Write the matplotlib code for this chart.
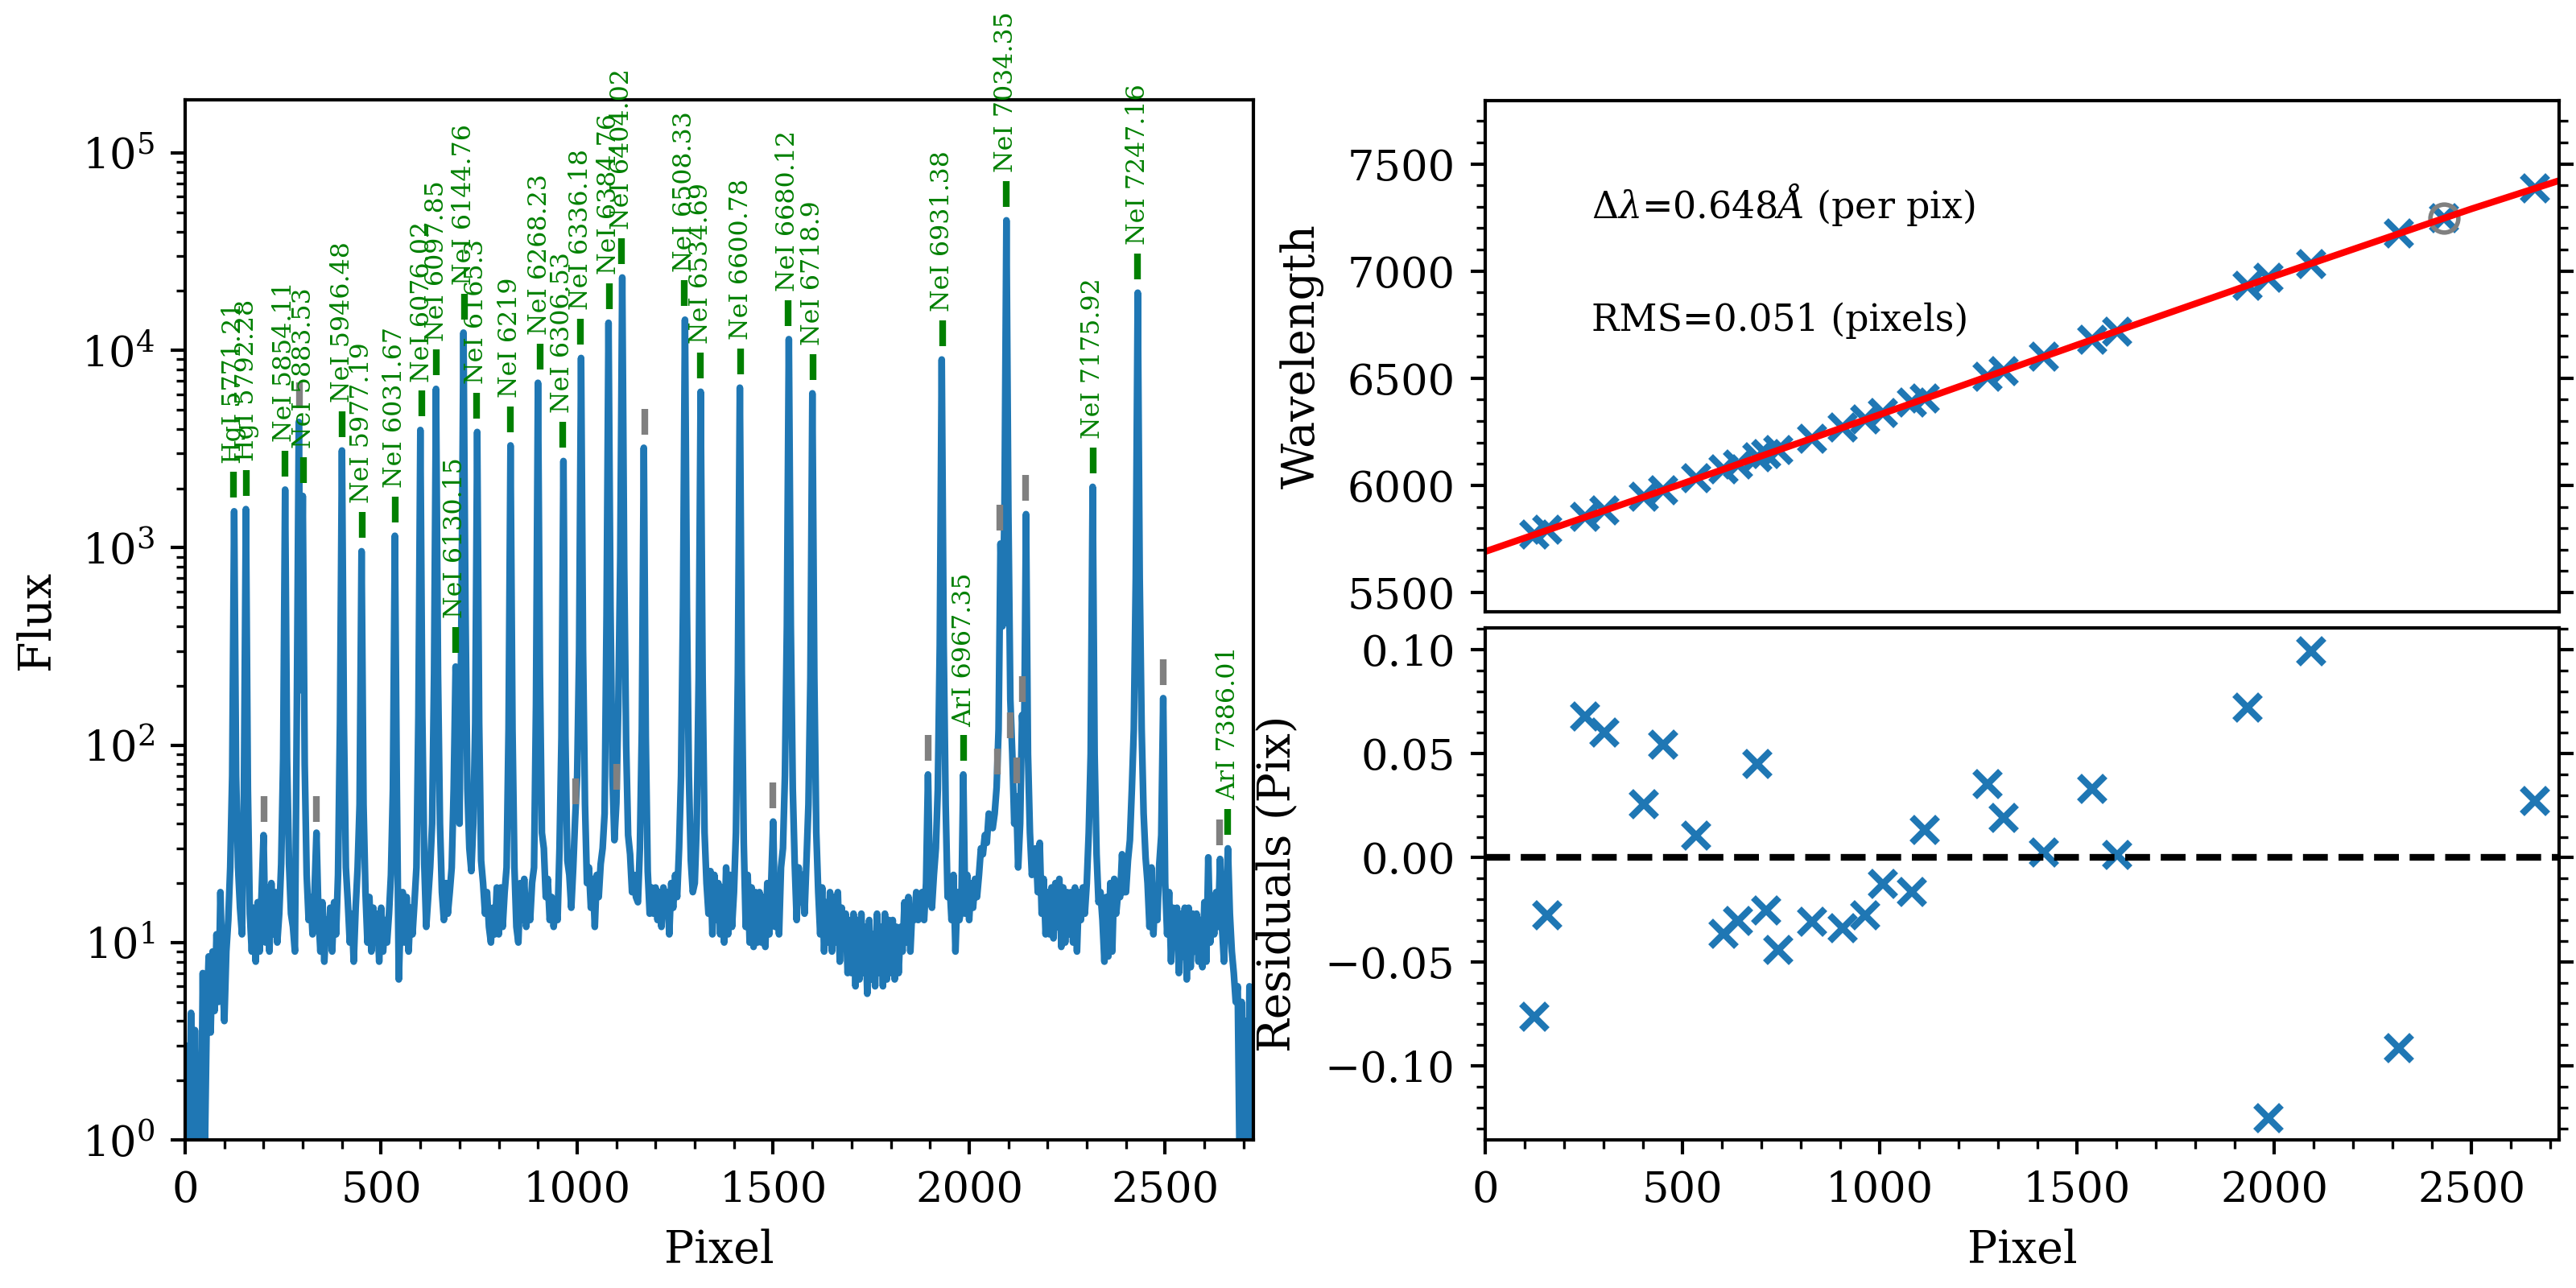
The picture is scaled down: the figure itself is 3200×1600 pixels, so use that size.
import numpy as np
import matplotlib
matplotlib.use("Agg")
import matplotlib.pyplot as plt
from matplotlib.ticker import MultipleLocator, LogLocator, NullFormatter

plt.rcParams['font.family'] = 'DejaVu Serif'
plt.rcParams['mathtext.fontset'] = 'dejavuserif'

# arc spectrum, one value every 5 pixels, each row spans 100 pixels
spec_step = 5
spec_flux = [
    .6, 3, .7, 4.4, .8, 3.6, .8, 2.5, .7, 7, .8, 4, 8.5, 3.5, 9, 4.5, 11, 5, 18, 7,
    4, 9, 13, 24, 70, 1530, 70, 24, 15, 11, 60, 1570, 60, 14, 9, 15, 8, 16, 9, 18,
    35, 10, 19, 9, 20, 11, 18, 10, 14, 25, 85, 1970, 85, 25, 14, 12, 9, 160, 4340, 190,
    1830, 80, 22, 13, 17, 11, 18, 36, 14, 9, 16, 8, 13, 10, 15, 9, 16, 11, 22, 130,
    3110, 130, 24, 16, 10, 14, 8, 15, 24, 50, 960, 50, 18, 10, 17, 9, 15, 10, 14, 8,
    15, 9, 13, 10, 14, 22, 60, 1150, 60, 6.5, 14, 18, 10, 17, 9, 15, 11, 16, 24, 140,
    3950, 140, 25, 12, 17, 24, 40, 230, 6380, 230, 40, 18, 13, 20, 14, 18, 24, 60, 250, 80,
    40, 500, 12300, 500, 60, 30, 23, 40, 130, 3860, 130, 26, 20, 14, 18, 12, 10, 15, 11, 19,
    11, 19, 12, 18, 24, 120, 3300, 120, 24, 12, 10, 20, 13, 21, 12, 16, 13, 20, 24, 160,
    6850, 230, 36, 30, 17, 21, 13, 17, 12, 15, 13, 30, 110, 2750, 110, 26, 22, 15, 24, 43,
    70, 300, 9150, 300, 50, 20, 24, 15, 21, 12, 22, 17, 25, 30, 45, 450, 13800, 500, 70, 33,
    51, 160, 900, 23400, 800, 100, 35, 28, 18, 22, 17, 16, 30, 120, 3210, 110, 23, 14, 19, 14,
    19, 13, 18, 12, 19, 14, 18, 11, 20, 15, 22, 17, 30, 70, 500, 14300, 500, 70, 26, 18,
    20, 40, 220, 6170, 220, 36, 20, 14, 23, 11, 22, 13, 20, 11, 19, 10, 24, 11, 22, 12,
    18, 36, 230, 6470, 230, 32, 12, 22, 10, 19, 9.5, 18, 10, 18, 10, 17, 9.5, 20, 11, 20,
    41, 12, 20, 11, 24, 30, 70, 400, 11400, 400, 60, 25, 13, 24, 16, 22, 14, 26, 50, 220,
    6060, 220, 36, 18, 11, 19, 9, 16, 10, 18, 9, 17, 10, 18, 8, 15, 10, 14, 7, 13,
    7, 14, 6, 13, 6.5, 14, 7, 12, 5.5, 13, 6.5, 11, 6, 14, 7, 12, 6, 14, 6.5, 13,
    7, 13, 6.5, 12, 7, 12, 9, 16, 10, 17, 9, 15, 13, 18, 13, 15, 18, 13, 20, 71,
    20, 15, 22, 30, 60, 320, 8990, 320, 50, 17, 20, 13, 22, 9, 18, 13, 15, 71, 14, 22,
    13, 20, 15, 21, 17, 22, 30, 28, 35, 32, 45, 40, 38, 45, 61, 120, 1050, 400, 1500, 45600,
    1500, 170, 90, 40, 55, 24, 40, 142, 90, 1480, 90, 36, 22, 27, 30, 18, 32, 14, 21, 11,
    18, 11, 19, 10.5, 20, 12, 21, 9.5, 19, 10, 18, 11, 18, 10, 19, 9, 18, 13, 19, 14,
    20, 36, 90, 2035, 90, 28, 16, 18, 13, 8, 17, 8.5, 20, 9, 21, 14, 18, 17, 28, 18,
    18, 26, 33, 60, 120, 700, 19600, 700, 120, 45, 27, 20, 12, 24, 11, 19, 13, 25, 35, 173,
    20, 11, 18, 8, 15, 10, 15, 7, 14, 8.5, 15, 6.5, 15, 7.5, 14, 9, 14, 8, 13, 7.5,
    16, 8, 27, 10, 16, 11, 18, 12, 26.5, 12, 8, 15, 30, 14, 9, 7, 5, 6, .7, 5,
    .7, 4, .7, 6, .6,
]

# identified lines
line_names = [
    'HgI 5771.21', 'HgI 5792.28', 'NeI 5854.11', 'NeI 5883.53', 'NeI 5946.48',
    'NeI 5977.19', 'NeI 6031.67', 'NeI 6076.02', 'NeI 6097.85', 'NeI 6130.15',
    'NeI 6144.76', 'NeI 6165.3', 'NeI 6219', 'NeI 6268.23', 'NeI 6306.53',
    'NeI 6336.18', 'NeI 6384.76', 'NeI 6404.02', 'NeI 6508.33', 'NeI 6534.69',
    'NeI 6600.78', 'NeI 6680.12', 'NeI 6718.9', 'NeI 6931.38', 'ArI 6967.35',
    'NeI 7034.35', 'NeI 7175.92', 'NeI 7247.16', 'ArI 7386.01',
]
line_wave = [
    5771.21, 5792.28, 5854.11, 5883.53, 5946.48, 5977.19, 6031.67, 6076.02,
    6097.85, 6130.15, 6144.76, 6165.3, 6219, 6268.23, 6306.53, 6336.18, 6384.76,
    6404.02, 6508.33, 6534.69, 6600.78, 6680.12, 6718.9, 6931.38, 6967.35,
    7034.35, 7175.92, 7247.16, 7386.01,
]
line_pix = [
    124, 157, 254, 302, 401, 451, 535, 604, 641, 689, 712, 743, 829, 905, 963,
    1009, 1082, 1114, 1274, 1315, 1417, 1538, 1601, 1932, 1986, 2094, 2316, 2430,
    2660,
]
line_flux = [
    1530, 1570, 1970, 1820, 3110, 960, 1150, 3950, 6380, 250, 12300, 3860, 3300,
    6850, 2750, 9150, 13800, 23400, 14300, 6170, 6470, 11400, 6060, 8990, 71,
    45600, 2035, 19600, 30,
]

# peaks found but not identified
other_pix = [202, 291, 335, 996, 1101, 1172, 1499, 1896, 2071, 2078, 2105, 2121, 2136, 2144, 2494, 2639]
other_flux = [35, 4340, 35, 43, 51, 3210, 41, 71, 61, 1050, 93, 55, 142, 1480, 173, 26.5]

# residuals of the fit, the 7247.16 line was left out
resid_pix = [
    124, 157, 254, 302, 401, 451, 535, 604, 641, 689, 712, 743, 829, 905, 963,
    1009, 1082, 1114, 1274, 1315, 1417, 1538, 1601, 1932, 1986, 2094, 2316, 2660,
]
resid = [
    -0.0764, -0.0276, 0.068, 0.060, 0.0255, 0.0544, 0.0106, -0.0366, -0.0302,
    0.045, -0.0255, -0.0445, -0.0308, -0.034, -0.0276, -0.0127, -0.0166, 0.0133,
    0.0354, 0.019, 0.0024, 0.0331, 0.0012, 0.0723, -0.1253, 0.0991, -0.0915, 0.0272,
]
fit_pix = [0, 500, 1000, 1500, 2000, 2500, 2724]
fit_wave = [5691, 6008, 6330, 6655, 6976, 7290, 7423]
masked_pix = [2430]
masked_wave = [7247.16]

W, H = 3200, 1600


def axes_box(x0, y0, x1, y1):
    return [x0 / W, 1 - y1 / H, (x1 - x0) / W, (y1 - y0) / H]


def style_ticks(ax, right=False):
    ax.tick_params(which='major', direction='out', length=6.5, width=1.5, labelsize=19, right=right, pad=7)
    ax.tick_params(which='minor', direction='out', length=3.8, width=1.2, right=right)
    for s in ax.spines.values():
        s.set_linewidth(1.5)


fig = plt.figure(figsize=(16, 8), dpi=200)

# spectrum
ax1 = fig.add_axes(axes_box(230, 124, 1557, 1416))
ax1.plot(np.arange(len(spec_flux)) * spec_step, spec_flux, color='tab:blue', lw=3)
ax1.vlines(line_pix, np.array(line_flux) * 1.17, np.array(line_flux) * 1.58, color='green', lw=3)
ax1.vlines(other_pix, np.array(other_flux) * 1.17, np.array(other_flux) * 1.58, color='grey', lw=3)
for name, p, f in zip(line_names, line_pix, line_flux):
    ax1.text(p, f * 1.75, name, rotation=90, ha='center', va='bottom', color='green', fontsize=11.4)
ax1.set_yscale('log')
ax1.set_xlim(0, 2725)
ax1.set_ylim(1, 1.86e5)
ax1.xaxis.set_major_locator(MultipleLocator(500))
ax1.xaxis.set_minor_locator(MultipleLocator(100))
ax1.yaxis.set_minor_locator(LogLocator(base=10, subs=np.arange(2, 10), numticks=12))
ax1.yaxis.set_minor_formatter(NullFormatter())
ax1.set_xlabel('Pixel', fontsize=20, labelpad=8)
ax1.set_ylabel('Flux', fontsize=20)
ax1.yaxis.set_label_coords(-0.118, 0.5)
style_ticks(ax1)

# wavelength solution
ax2 = fig.add_axes(axes_box(1845, 125, 3179, 760))
ax2.plot(line_pix, line_wave, 'x', color='tab:blue', ms=11.5, mew=3)
ax2.plot(masked_pix, masked_wave, 'o', mfc='none', mec='grey', ms=12.5, mew=2)
ax2.plot(fit_pix, fit_wave, color='red', lw=3)
ax2.text(270, 7310, r'$\Delta\lambda$=0.648$\AA$ (per pix)', fontsize=16.5, va='center')
ax2.text(270, 6770, 'RMS=0.051 (pixels)', fontsize=16.5, va='center')
ax2.set_xlim(0, 2722)
ax2.set_ylim(5410, 7795)
ax2.xaxis.set_major_locator(MultipleLocator(500))
ax2.yaxis.set_major_locator(MultipleLocator(500))
ax2.yaxis.set_minor_locator(MultipleLocator(100))
ax2.set_ylabel('Wavelength', fontsize=20)
ax2.yaxis.set_label_coords(-0.150, 0.5)
style_ticks(ax2, right=True)
ax2.tick_params(axis='x', which='both', bottom=False, labelbottom=False)

# residuals
ax3 = fig.add_axes(axes_box(1845, 780, 3179, 1416))
ax3.plot(resid_pix, resid, 'x', color='tab:blue', ms=11.5, mew=3)
ax3.axhline(0, color='black', ls='--', lw=3)
ax3.set_xlim(0, 2722)
ax3.set_ylim(-0.1356, 0.1104)
ax3.xaxis.set_major_locator(MultipleLocator(500))
ax3.xaxis.set_minor_locator(MultipleLocator(100))
ax3.yaxis.set_major_locator(MultipleLocator(0.05))
ax3.yaxis.set_minor_locator(MultipleLocator(0.01))
ax3.set_xlabel('Pixel', fontsize=20, labelpad=8)
ax3.set_ylabel('Residuals (Pix)', fontsize=20)
ax3.yaxis.set_label_coords(-0.172, 0.5)
style_ticks(ax3, right=True)

fig.savefig('out.png', dpi=200)
